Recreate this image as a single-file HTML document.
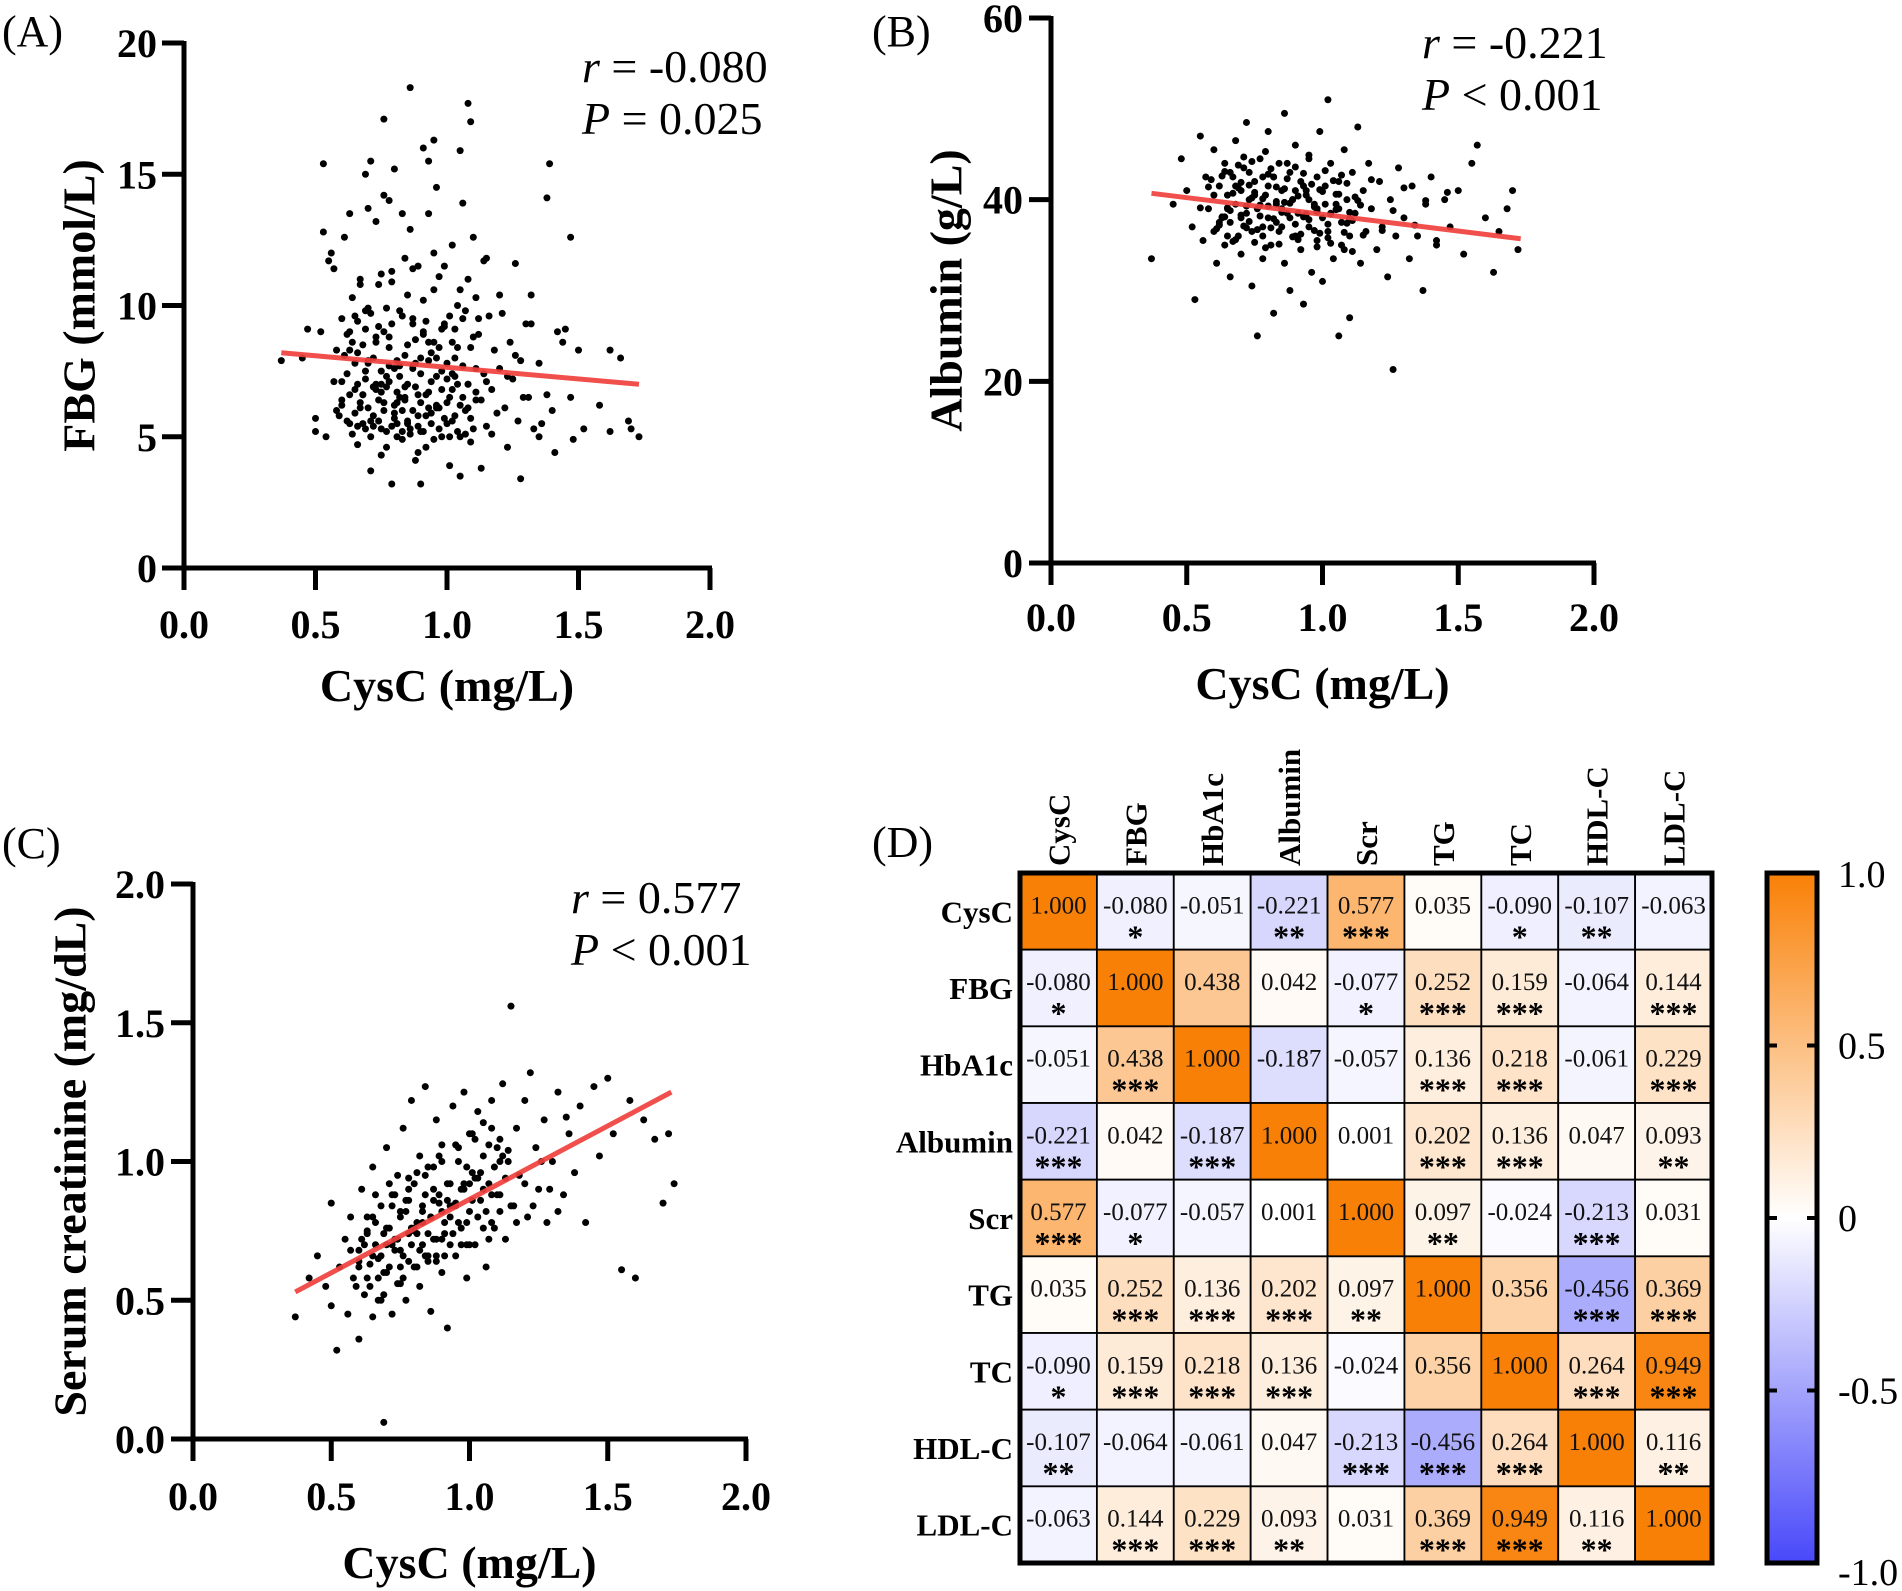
<!DOCTYPE html>
<html><head><meta charset="utf-8"><style>
html,body{margin:0;padding:0;background:#fff;}
svg{display:block;}
text{font-family:"Liberation Serif",serif;}
.tk{font-size:40px;font-weight:bold;}
.ttl{font-size:46px;font-weight:bold;}
.stat{font-size:46px;}
.pl{font-size:44px;}
</style></head><body>
<svg id="fig" width="1902" height="1591" viewBox="0 0 1902 1591" xmlns="http://www.w3.org/2000/svg"></svg>
<script>
// ---------- Panel A data: CysC (mg/L) vs FBG (mmol/L) ----------
const aX1 = [0.37,0.45,0.47,0.5,0.5,0.52,0.53,0.53,0.54,0.55,0.56,0.57,0.58,0.58,0.6,0.6,0.61,0.62,0.62,0.63,0.63,0.64,0.65,0.65,0.66,0.66,0.67,0.67,0.68,0.68,0.69,0.69,0.7,0.7,0.7,0.71,0.71,0.72,0.72,0.73,0.73,0.74,0.74,0.75,0.75,0.76,0.76,0.76,0.77,0.77,0.78,0.78,0.79,0.79,0.8,0.8,0.8,0.81,0.82,0.82,0.83,0.83,0.84,0.84,0.85,0.85,0.86,0.86,0.87,0.87,0.88,0.88,0.89,0.89,0.9,0.9,0.91,0.91,0.92,0.92,0.93,0.93,0.94,0.94,0.95,0.95,0.96,0.96,0.97,0.98,0.98,0.99,1.0,1.0,1.01,1.02,1.02,1.03,1.04,1.04,1.05,1.05,1.06,1.06,1.07,1.08,1.08,1.09,1.09,1.1,1.1,1.11,1.12,1.13,1.14,1.15,1.15,1.16,1.17,1.18,1.19,1.2,1.21,1.22,1.23,1.24,1.25,1.26,1.27,1.28,1.28,1.3,1.31,1.32,1.33,1.35,1.36,1.38,1.38,1.39,1.4,1.41,1.42,1.44,1.45,1.47,1.47,1.48,1.5,1.52,1.58,1.62,1.62,1.66,1.69,1.7,1.73,
0.66,0.68,0.7,0.72,0.74,0.76,0.78,0.8,0.82,0.84,0.86,0.88,0.9,0.92,0.94,0.96,0.98,1.0,1.02,1.04,1.06,1.08,0.64,0.69,0.73,0.79,0.85,0.91,0.97,1.03,0.71,0.77,0.83,0.89,0.95,1.01,0.75,0.81,0.87,0.93];
const aY1 = [7.9,8.0,9.1,5.7,5.2,9.0,12.8,15.4,5.0,11.7,12.0,11.4,8.3,6.0,9.5,7.1,12.6,5.6,8.9,6.6,13.5,10.3,7.8,5.9,9.4,4.7,6.3,11.0,8.5,5.5,15.0,7.2,6.1,13.7,9.9,3.7,15.5,5.8,8.0,6.8,13.2,10.8,6.4,7.5,4.3,14.2,17.1,9.0,5.2,6.9,14.0,8.4,3.2,11.3,6.2,15.2,7.6,5.0,9.8,6.5,13.5,4.9,8.1,11.8,5.6,7.0,18.3,12.9,6.0,9.5,4.1,8.7,11.5,5.4,3.2,7.4,16.0,10.2,6.6,4.6,15.5,13.5,8.2,5.5,16.3,12.0,7.3,14.5,6.1,9.1,5.0,11.5,7.8,6.3,3.9,12.3,8.6,5.8,10.0,7.0,15.9,3.5,13.9,9.5,6.0,17.7,11.0,17.0,4.8,8.8,12.6,6.7,9.5,3.8,7.4,11.8,5.4,9.6,6.8,8.3,5.9,7.6,9.7,6.1,4.6,8.6,7.2,11.6,5.6,3.4,7.9,9.3,6.5,10.4,5.3,7.8,5.5,14.1,6.6,15.4,6.0,4.4,9.0,8.6,9.1,12.6,6.5,4.9,8.3,5.3,6.2,5.2,8.3,8.0,5.6,5.3,5.0,
7.0,6.6,7.8,6.9,5.6,6.3,7.1,5.9,7.7,6.4,5.3,6.9,8.0,5.8,7.1,6.2,7.5,5.5,6.8,5.2,7.7,6.1,8.6,9.1,8.8,9.3,8.5,9.0,8.4,9.1,5.0,4.6,5.2,4.4,4.9,5.0,7.0,6.7,7.6,6.7];
// dense-core x lists (shared positions for extra rows)
const xr1 = [0.60,0.62,0.64,0.66,0.68,0.70,0.72,0.74,0.76,0.78,0.80,0.82,0.84,0.86,0.88,0.90,0.92,0.94,0.96,0.98,1.00,1.02,1.04,1.06,1.08,1.10,1.12];
const xr2 = [0.61,0.63,0.65,0.67,0.69,0.71,0.73,0.75,0.77,0.79,0.81,0.83,0.85,0.87,0.89,0.91,0.93,0.95,0.97,0.99,1.01,1.03,1.05,1.07,1.09,1.11,1.13];
const xr3 = [0.59,0.63,0.65,0.67,0.69,0.71,0.73,0.75,0.77,0.79,0.81,0.83,0.85,0.87,0.89,0.91,0.93,0.95,0.97,0.99,1.01,1.03,1.05,1.07,1.09,1.11,1.15];
const xr4 = [0.57,0.6,0.63,0.66,0.69,0.72,0.75,0.78,0.81,0.84,0.87,0.9,0.93,0.96,0.99,1.02,1.05,1.08,1.11,1.14,1.17,1.2,1.23,1.26,1.29,1.32,1.35];
const aY2 = [6.2,7.4,5.1,8.2,6.6,7.9,5.4,9.2,6.0,8.8,5.7,7.3,6.9,5.1,7.8,6.3,9.4,5.9,8.0,6.8,7.2,5.6,8.4,6.5,7.0,5.3,8.9,
 8.1,5.5,9.6,6.1,7.5,5.6,8.6,6.7,9.9,5.4,7.9,6.0,10.4,7.7,5.8,8.9,6.1,10.6,5.3,9.3,6.5,8.0,6.2,9.8,5.7,7.6,6.4,
 5.8,9.0,6.8,10.8,5.3,9.7,7.0,5.3,7.3,10.9,6.3,9.6,5.5,11.4,6.6,5.2,7.9,8.6,11.1,5.7,9.6,7.3,10.6,5.1,8.4,10.3,7.1,
 7.1,6.4,8.3,5.4,9.8,6.9,11.2,7.7,5.5,6.5,9.3,5.2,8.6,6.1,9.2,7.4,5.0,7.0,6.4,11.7,5.1,10.4,7.3,8.1,6.5,9.3,5.0];
const aX = aX1.concat(xr1, xr2, xr3, xr4);
const aY = aY1.concat(aY2);
const aFit = [[0.37,8.2],[1.73,7.0]];
const aYTicks = [0,5,10,15,20];
const xTicks = ["0.0","0.5","1.0","1.5","2.0"];

// ---------- Panel B data: CysC vs Albumin (g/L) ----------
const bX1 = [0.37,0.45,0.48,0.5,0.52,0.53,0.55,0.56,0.57,0.58,0.6,0.6,0.61,0.62,0.63,0.64,0.64,0.65,0.66,0.66,0.67,0.68,0.68,0.69,0.7,0.7,0.71,0.72,0.72,0.73,0.74,0.74,0.75,0.76,0.76,0.77,0.78,0.78,0.79,0.8,0.8,0.81,0.82,0.82,0.83,0.84,0.84,0.85,0.86,0.86,0.87,0.88,0.88,0.89,0.9,0.9,0.91,0.92,0.92,0.93,0.94,0.95,0.95,0.96,0.97,0.98,0.98,0.99,1.0,1.0,1.01,1.02,1.02,1.03,1.04,1.05,1.06,1.06,1.07,1.08,1.08,1.09,1.1,1.1,1.11,1.12,1.13,1.14,1.15,1.16,1.17,1.18,1.2,1.21,1.22,1.24,1.25,1.26,1.27,1.28,1.3,1.32,1.33,1.35,1.37,1.38,1.4,1.42,1.45,1.47,1.5,1.52,1.55,1.57,1.6,1.63,1.65,1.68,1.7,1.72,0.75,0.8,0.85,0.9,0.95,0.7,0.65,0.78,0.83,0.88,0.93,0.98,1.03,0.73,0.68];
const bY1 = [33.5,39.5,44.5,41.0,37.0,29.0,47.0,35.5,42.5,39.0,45.5,36.5,33.0,41.5,38.0,44.0,35.0,40.5,37.5,31.5,42.5,39.5,46.5,36.0,41.0,34.0,43.5,38.5,48.5,40.0,36.5,30.5,42.0,39.0,25.0,44.5,37.0,33.5,40.5,47.5,38.0,35.0,42.5,27.5,39.5,44.0,36.5,41.0,49.5,33.0,38.5,43.0,30.0,40.0,36.0,46.0,38.5,42.0,34.5,28.5,40.5,44.5,37.0,32.0,39.5,42.5,35.5,47.5,38.0,31.0,41.5,51.0,36.5,44.0,33.5,39.5,25.0,42.0,37.5,45.5,34.5,40.0,27.0,36.0,43.0,38.5,48.0,33.0,41.0,36.5,44.0,39.0,34.5,42.0,37.0,31.5,40.0,21.3,36.0,43.5,38.0,33.5,41.5,36.0,30.0,39.5,42.5,35.0,40.0,37.0,41.0,34.0,44.0,46.0,38.0,32.0,36.5,39.0,41.0,34.5,40.5,41.5,39.0,41.0,40.0,38.0,39.0,42.5,37.5,38.0,41.5,39.0,38.5,43.0,41.5];
const xrB4 = [0.55,0.58,0.62,0.66,0.7,0.74,0.78,0.82,0.86,0.9,0.94,0.98,1.02,1.06,1.1,1.14,1.18,1.22,1.26,1.3,1.34,1.38,1.42,1.46,0.64,0.72,0.8];
const bY2 = [40.5,37.2,43.1,38.8,35.6,41.9,39.3,44.2,36.7,40.1,42.8,37.9,35.1,41.2,39.6,43.6,36.2,38.4,41.7,34.8,40.9,37.3,42.1,39.0,36.4,38.6,40.3,
 36.8,42.6,39.1,35.4,41.3,44.7,37.6,40.8,38.2,34.7,43.4,39.8,37.0,42.3,35.9,40.4,38.1,44.9,36.6,41.1,39.5,35.2,38.9,42.7,37.4,34.3,39.9,
 42.2,38.1,36.0,40.7,43.8,37.1,41.6,35.3,39.4,45.3,36.9,41.4,38.6,44.0,40.0,35.6,42.9,37.8,39.2,36.3,43.2,38.4,40.6,35.0,41.8,37.7,36.1,
 39.1,41.4,37.5,43.0,38.3,40.2,36.0,42.5,39.7,37.3,41.0,38.7,35.8,40.6,37.9,39.4,42.2,36.6,38.8,41.3,37.2,39.9,35.5,40.8,38.1,36.9,39.3];
const bX = bX1.concat(xr1, xr2, xr3, xrB4);
const bY = bY1.concat(bY2);
const bFit = [[0.37,40.7],[1.73,35.7]];
const bYTicks = [0,20,40,60];

// ---------- Panel C data: CysC vs Serum creatinine (mg/dL) ----------
const cX1 = [0.37,0.42,0.45,0.48,0.5,0.5,0.52,0.53,0.55,0.56,0.57,0.58,0.6,0.6,0.61,0.62,0.63,0.64,0.65,0.65,0.66,0.67,0.68,0.68,0.69,0.7,0.7,0.71,0.72,0.72,0.73,0.74,0.74,0.75,0.76,0.76,0.77,0.78,0.78,0.79,0.8,0.8,0.81,0.82,0.82,0.83,0.84,0.84,0.85,0.86,0.86,0.87,0.88,0.88,0.89,0.9,0.9,0.91,0.92,0.92,0.93,0.94,0.94,0.95,0.96,0.97,0.98,0.98,0.99,1.0,1.0,1.01,1.02,1.03,1.04,1.05,1.06,1.07,1.08,1.08,1.1,1.11,1.12,1.13,1.14,1.15,1.16,1.17,1.18,1.2,1.21,1.22,1.24,1.25,1.27,1.28,1.3,1.32,1.34,1.36,1.38,1.4,1.42,1.45,1.47,1.5,1.52,1.55,1.58,1.6,1.63,1.67,1.7,1.72,1.74,0.7,0.75,0.8,0.85,0.9,0.95,1.0,0.78,0.83,0.88];
const cY1 = [0.44,0.58,0.66,0.55,0.48,0.85,0.32,0.62,0.72,0.45,0.8,0.58,0.68,0.36,0.9,0.52,0.75,0.63,0.98,0.44,0.7,0.58,0.84,0.5,0.06,0.76,1.05,0.62,0.88,0.45,0.72,0.95,0.56,0.8,1.12,0.66,0.5,0.86,0.74,1.22,0.62,0.92,0.78,0.55,1.02,0.7,0.88,1.27,0.64,0.8,0.46,0.98,0.72,1.15,0.85,0.6,1.06,0.78,0.92,0.4,0.7,1.2,0.84,0.66,1.0,0.76,0.9,1.25,0.58,0.82,1.1,0.96,0.7,1.18,0.86,1.02,0.62,0.92,1.22,0.78,1.05,0.88,1.28,0.72,1.0,1.56,0.84,1.12,0.95,1.22,0.8,1.32,1.05,0.9,1.15,0.78,1.0,1.25,0.88,1.1,0.96,1.2,0.78,1.27,1.02,1.3,1.1,0.61,1.22,0.58,1.15,1.08,0.85,1.1,0.92,0.7,0.68,0.76,0.74,0.82,0.85,0.92,0.64,0.82,0.66];
const cY2 = [0.62,0.70,0.55,0.78,0.66,0.60,0.84,0.72,0.58,0.90,0.75,0.68,0.95,0.80,0.64,1.00,0.86,0.74,1.05,0.92,0.70,1.08,0.96,0.82,1.12,0.88,1.02,
 0.72,0.58,0.80,0.65,0.52,0.76,0.88,0.62,0.82,0.70,0.96,0.78,0.66,0.86,1.02,0.74,0.92,0.84,0.70,0.98,1.10,0.80,0.90,1.06,0.76,1.00,0.94,
 0.55,0.80,0.66,0.50,0.74,0.92,0.68,0.56,0.86,0.76,0.62,0.84,0.98,0.72,0.88,0.66,0.80,1.06,0.90,0.78,0.86,0.94,1.14,0.72,0.98,1.08,0.84,
 0.68,0.64,0.74,0.88,0.60,0.70,0.82,0.94,0.74,0.66,0.90,0.72,0.84,0.78,0.70,0.94,0.76,0.88,0.82,1.04,0.78,0.92,0.84,1.00,0.90,0.82,1.16];
const cX = cX1.concat(xr1, xr2, xr3, xr4);
const cY = cY1.concat(cY2);
const cFit = [[0.37,0.53],[1.73,1.25]];
const cYTicks = ["0.0","0.5","1.0","1.5","2.0"];

// ---------- Panel D data: correlation matrix ----------
const vars = ["CysC","FBG","HbA1c","Albumin","Scr","TG","TC","HDL-C","LDL-C"];
const corr = [
 [1.000,-0.080,-0.051,-0.221,0.577,0.035,-0.090,-0.107,-0.063],
 [-0.080,1.000,0.438,0.042,-0.077,0.252,0.159,-0.064,0.144],
 [-0.051,0.438,1.000,-0.187,-0.057,0.136,0.218,-0.061,0.229],
 [-0.221,0.042,-0.187,1.000,0.001,0.202,0.136,0.047,0.093],
 [0.577,-0.077,-0.057,0.001,1.000,0.097,-0.024,-0.213,0.031],
 [0.035,0.252,0.136,0.202,0.097,1.000,0.356,-0.456,0.369],
 [-0.090,0.159,0.218,0.136,-0.024,0.356,1.000,0.264,0.949],
 [-0.107,-0.064,-0.061,0.047,-0.213,-0.456,0.264,1.000,0.116],
 [-0.063,0.144,0.229,0.093,0.031,0.369,0.949,0.116,1.000]];
const stars = [
 ["","*","","**","***","","*","**",""],
 ["*","","","","*","***","***","","***"],
 ["","***","","","","***","***","","***"],
 ["***","","***","","","***","***","","**"],
 ["***","*","","","","**","","***",""],
 ["","***","***","***","**","","","***","***"],
 ["*","***","***","***","","","","***","***"],
 ["**","","","","***","***","***","","**"],
 ["","***","***","**","","***","***","**",""]];
const cbTicks = ["1.0","0.5","0","-0.5","-1.0"];
const cbTickVals = [1,0.5,0,-0.5,-1];

const NS = "http://www.w3.org/2000/svg";
const fig = document.getElementById("fig");
function mk(tag, attrs, parent, txt){
  const e = document.createElementNS(NS, tag);
  for (const k in attrs) e.setAttribute(k, attrs[k]);
  if (txt !== undefined) e.textContent = txt;
  (parent||fig).appendChild(e);
  return e;
}

function scatter(cfg){
  const g = mk("g", {});
  
  
  const sx = v => cfg.x0 + (v/2)*(cfg.x2 - cfg.x0);
  const sy = v => cfg.y0 - (v/cfg.ymax)*(cfg.y0 - cfg.ytop);
  for (let i=0;i<cfg.xs.length;i++){
    const p = mk("circle",{cx:sx(cfg.xs[i]),cy:sy(cfg.ys[i]),r:3.5,fill:"#000"},g);
    
    
  }
  const fl = mk("line",{x1:sx(cfg.fit[0][0]),y1:sy(cfg.fit[0][1]),x2:sx(cfg.fit[1][0]),y2:sy(cfg.fit[1][1]),stroke:"#f0403c","stroke-width":5,"stroke-opacity":0.92},g);
  
  
  const ya = mk("line",{x1:cfg.x0,y1:cfg.ytop-2,x2:cfg.x0,y2:cfg.y0+22,stroke:"#000","stroke-width":5},g);
  
  
  const xa = mk("line",{x1:cfg.x0-22,y1:cfg.y0,x2:cfg.x2+2,y2:cfg.y0,stroke:"#000","stroke-width":5},g);
  
  
  cfg.yt.forEach(t=>{
    const v = parseFloat(t), y = sy(v);
    mk("line",{x1:cfg.x0-22,y1:y,x2:cfg.x0,y2:y,stroke:"#000","stroke-width":5},g);
    const tl = mk("text",{x:cfg.ylx,y:y+14,"text-anchor":"end",class:"tk"},g,String(t));
    
    
  });
  xTicks.forEach(t=>{
    const x = sx(parseFloat(t));
    mk("line",{x1:x,y1:cfg.y0,x2:x,y2:cfg.y0+22,stroke:"#000","stroke-width":5},g);
    const tl = mk("text",{x:x,y:cfg.xlb,"text-anchor":"middle",class:"tk"},g,t);
    
    
  });
  const xt = mk("text",{x:sx(1),y:cfg.xtb,"text-anchor":"middle",class:"ttl"},g,"CysC (mg/L)");
  
  
  const ymid = (cfg.y0+cfg.ytop)/2;
  const yt = mk("text",{x:cfg.ytx,y:ymid,"text-anchor":"middle","dominant-baseline":"central",transform:`rotate(-90 ${cfg.ytx} ${ymid})`,class:"ttl"},g,cfg.ytitle);
  
  
  const r = mk("text",{x:cfg.sx,y:cfg.sb1,class:"stat"},g);
  
  
  mk("tspan",{"font-style":"italic"},r,"r");
  mk("tspan",{},r," = "+cfg.r);
  const p = mk("text",{x:cfg.sx,y:cfg.sb2,class:"stat"},g);
  
  
  mk("tspan",{"font-style":"italic"},p,"P");
  mk("tspan",{},p,cfg.p);
  const lab = mk("text",{x:cfg.lx,y:cfg.lb,class:"pl"},g,cfg.label);
  
  
}

scatter({name:"panel-a-scatter",xs:aX,ys:aY,fit:aFit,x0:184,x2:710,y0:568,ytop:43,ymax:20,yt:aYTicks,ylx:157,xlb:638,xtb:701,ytx:79,ytitle:"FBG (mmol/L)",r:"-0.080",p:" = 0.025",sx:582,sb1:82,sb2:134,label:"(A)",lx:2,lb:46});
scatter({name:"panel-b-scatter",xs:bX,ys:bY,fit:bFit,x0:1051,x2:1594,y0:563,ytop:18,ymax:60,yt:bYTicks,ylx:1023,xlb:631,xtb:699,ytx:946,ytitle:"Albumin (g/L)",r:"-0.221",p:" < 0.001",sx:1422,sb1:58,sb2:110,label:"(B)",lx:872,lb:46});
scatter({name:"panel-c-scatter",xs:cX,ys:cY,fit:cFit,x0:193,x2:746,y0:1439,ytop:884,ymax:2,yt:cYTicks,ylx:165,xlb:1510,xtb:1578,ytx:70,ytitle:"Serum creatinine (mg/dL)",r:"0.577",p:" < 0.001",sx:571,sb1:913,sb2:965,label:"(C)",lx:2,lb:858});

// ---------- Heatmap ----------
const HL=1020, HT=873, HR=1712, HB=1563, n=vars.length, cw=(HR-HL)/n, ch=(HB-HT)/n;
function color(v){
  let r,g,b;
  if (v>=0){ r=255+(249-255)*v; g=255+(128-255)*v; b=255+(6-255)*v; }
  else { const t=-v; r=255+(72-255)*t; g=255+(72-255)*t; b=255+(250-255)*t; }
  return `rgb(${Math.round(r)},${Math.round(g)},${Math.round(b)})`;
}
const hg = mk("g",{});


for (let i=0;i<n;i++) for (let j=0;j<n;j++){
  const x=HL+j*cw, y=HT+i*ch;
  const c = mk("rect",{x:x,y:y,width:cw,height:ch,fill:color(corr[i][j]),stroke:"#000","stroke-width":1.8},hg);
  
  
  const t = mk("text",{x:x+cw/2,y:y+ch/2+2,"text-anchor":"middle","font-size":"25px",fill:"#111"},hg,corr[i][j].toFixed(3));
  
  
  if (stars[i][j]){
    const s = mk("text",{x:x+cw/2,y:y+ch/2+36,"text-anchor":"middle","font-size":"32px","font-weight":"bold",fill:"#000"},hg,stars[i][j]);
    
    
  }
}
mk("rect",{x:HL,y:HT,width:HR-HL,height:HB-HT,fill:"none",stroke:"#000","stroke-width":5},hg);
vars.forEach((v,i)=>{
  const rl = mk("text",{x:1013,y:HT+i*ch+ch/2+11,"text-anchor":"end","font-size":"31px","font-weight":"bold"},hg,v);
  
  
  const cx = HL+i*cw+cw/2+11, cy=866;
  const cl = mk("text",{x:cx,y:cy,"text-anchor":"start",transform:`rotate(-90 ${cx} ${cy})`,"font-size":"31px","font-weight":"bold"},hg,v);
  
  
});
const dl = mk("text",{x:872,y:857,class:"pl"},hg,"(D)");



// ---------- Colorbar ----------
const CL=1767, CR=1817, CT=873, CB=1563;
const defs = mk("defs",{});
const lg = mk("linearGradient",{id:"cbg",x1:0,y1:0,x2:0,y2:1},defs);
[[0,1],[0.5,0],[1,-1]].forEach(s=>mk("stop",{offset:s[0],"stop-color":color(s[1])},lg));
const cb = mk("rect",{x:CL,y:CT,width:CR-CL,height:CB-CT,fill:"url(#cbg)",stroke:"#000","stroke-width":5});


const cby = v => CT + (1-v)/2*(CB-CT);
cbTicks.forEach((t,k)=>{
  const y = cby(cbTickVals[k]);
  if (k>0 && k<cbTicks.length-1){
    mk("line",{x1:CL,y1:y,x2:CL+10,y2:y,stroke:"#000","stroke-width":4});
    mk("line",{x1:CR-10,y1:y,x2:CR,y2:y,stroke:"#000","stroke-width":4});
  }
  const ty = k===0 ? y+14 : (k===cbTicks.length-1 ? y+22 : y+13);
  const tl = mk("text",{x:1838,y:ty,"font-size":"38px"},null,t);
  
  
});
</script>
</body></html>
